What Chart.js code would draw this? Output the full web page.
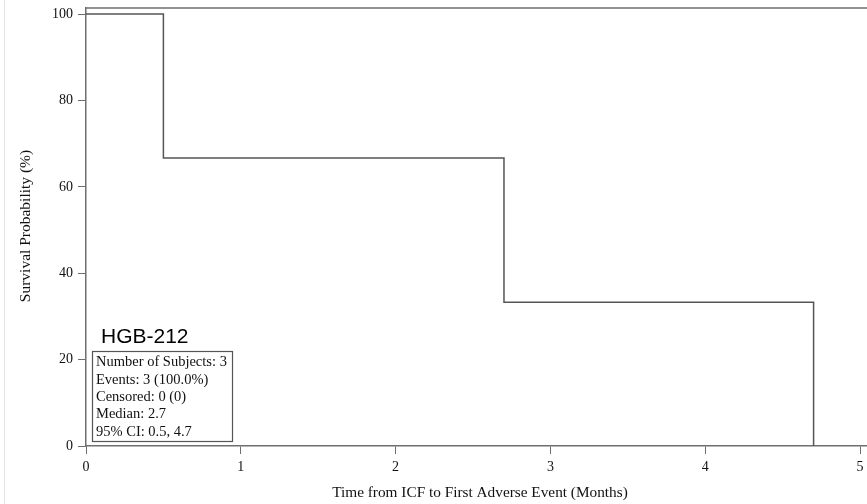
<!DOCTYPE html>
<html>
<head>
<meta charset="utf-8">
<script src="https://cdn.jsdelivr.net/npm/chart.js@4"></script>
<style>
  html, body { margin: 0; padding: 0; background: #fff; }
  #wrap { width: 867px; height: 504px; position: relative; }
</style>
</head>
<body>
<div id="wrap"><canvas id="km"></canvas></div>
<script>
// KM step curve: time in months, survival in %
const times = [0, 0.5, 2.7, 4.7];
const survival = [100, 66.7, 33.3, 0];
const xTicks = [0, 1, 2, 3, 4, 5];
const yTicks = [0, 20, 40, 60, 80, 100];
const groupName = 'HGB-212';
const statsLines = [
    'Number of Subjects: 3',
    'Events: 3 (100.0%)',
    'Censored: 0 (0)',
    'Median: 2.7',
    '95% CI: 0.5, 4.7'
];

const serif = '"Liberation Serif", "DejaVu Serif", serif';
const axisColor = '#6e6e6e';

const extras = {
    id: 'extras',
    afterDraw(chart) {
        const {ctx, chartArea} = chart;
        ctx.save();
        // top border of frame
        ctx.strokeStyle = axisColor;
        ctx.lineWidth = 1.5;
        ctx.beginPath();
        ctx.moveTo(chartArea.left, chartArea.top);
        ctx.lineTo(chart.width, chartArea.top);
        ctx.stroke();

        // faint page edge on the far left
        ctx.strokeStyle = '#e6e6e6';
        ctx.lineWidth = 1;
        ctx.beginPath();
        ctx.moveTo(4.5, 0);
        ctx.lineTo(4.5, chart.height);
        ctx.stroke();

        // axis titles
        ctx.fillStyle = '#111';
        ctx.font = '15.3px ' + serif;
        ctx.textAlign = 'center';
        ctx.textBaseline = 'middle';
        ctx.fillText('Time from ICF to First Adverse Event (Months)', 480, 493);
        ctx.save();
        ctx.translate(26, 226);
        ctx.rotate(-Math.PI / 2);
        ctx.font = '15.5px ' + serif;
        ctx.fillText('Survival Probability (%)', 0, 0);
        ctx.restore();

        // group label
        ctx.textAlign = 'left';
        ctx.textBaseline = 'alphabetic';
        ctx.fillStyle = '#000';
        ctx.font = '21px "Liberation Sans", Arial, sans-serif';
        ctx.fillText(groupName, 101, 343);

        // stats box
        ctx.fillStyle = '#fff';
        ctx.fillRect(92, 351, 140, 90);
        ctx.strokeStyle = '#555';
        ctx.lineWidth = 1.2;
        ctx.strokeRect(92.5, 351.5, 140, 90);
        ctx.fillStyle = '#111';
        ctx.font = '14.5px ' + serif;
        ctx.textBaseline = 'middle';
        statsLines.forEach((t, i) => ctx.fillText(t, 96, 362.5 + i * 17.3));
        ctx.restore();
    }
};

new Chart(document.getElementById('km'), {
    type: 'scatter',
    data: {
        datasets: [{
            data: times.map((t, i) => ({x: t, y: survival[i]})),
            showLine: true,
            stepped: 'before',
            borderColor: '#555',
            borderWidth: 1.5,
            pointRadius: 0,
            fill: false
        }]
    },
    plugins: [extras],
    options: {
        responsive: true,
        maintainAspectRatio: false,
        animation: false,
        layout: { padding: { top: 8, left: 0, right: 0, bottom: 0 } },
        plugins: { legend: { display: false }, tooltip: { enabled: false } },
        scales: {
            x: {
                type: 'linear',
                min: 0,
                max: 5.045,
                afterBuildTicks: s => { s.ticks = xTicks.map(v => ({value: v})); },
                afterFit: s => { s.height = 58; s.paddingLeft = 0; s.paddingRight = 0; },
                grid: { drawOnChartArea: false, drawTicks: true, tickLength: 8, color: axisColor, lineWidth: 1 },
                border: { display: true, color: axisColor, width: 1.5 },
                ticks: { color: '#111', font: { family: serif, size: 14 }, padding: 5, maxRotation: 0 }
            },
            y: {
                type: 'linear',
                min: 0,
                max: 101.4,
                afterBuildTicks: s => { s.ticks = yTicks.map(v => ({value: v})); },
                afterFit: s => { s.width = 86; s.paddingTop = 0; s.paddingBottom = 0; },
                grid: { drawOnChartArea: false, drawTicks: true, tickLength: 8, color: axisColor, lineWidth: 1 },
                border: { display: true, color: axisColor, width: 1.5 },
                ticks: { color: '#111', font: { family: serif, size: 14 }, padding: 5 }
            }
        }
    }
});
</script>
</body>
</html>
